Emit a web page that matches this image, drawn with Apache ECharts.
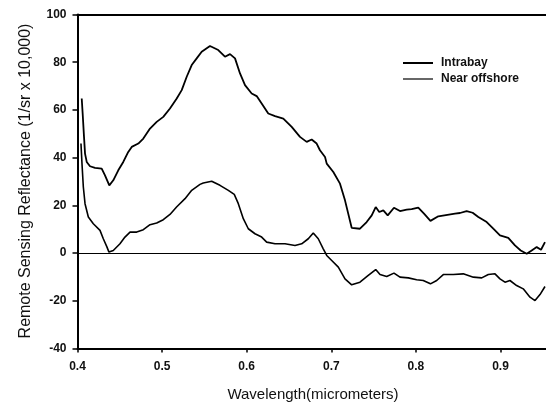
<!DOCTYPE html>
<html>
<head>
<meta charset="utf-8">
<script src="https://cdn.jsdelivr.net/npm/echarts@6/dist/echarts.min.js"></script>
<style>html,body{margin:0;padding:0;background:#fff}#c{width:546px;height:405px}</style>
</head>
<body>
<div id="c"></div>
<script>
const yTicks = [-40, -20, 0, 20, 40, 60, 80, 100];
const xTicks = [0.4, 0.5, 0.6, 0.7, 0.8, 0.9];
const seriesNames = ['Intrabay', 'Near offshore'];

const intrabayWl = [0.405,0.4061,0.4077,0.4089,0.4109,0.4148,0.4207,0.4286,0.4325,0.4376,0.4423,0.4482,0.4541,0.46,0.4641,0.4719,0.4778,0.4857,0.4936,0.5014,0.5093,0.5173,0.5232,0.5291,0.535,0.5409,0.5468,0.5566,0.5664,0.5743,0.5803,0.5862,0.5921,0.598,0.6059,0.6118,0.6177,0.6255,0.6335,0.6433,0.6532,0.663,0.6709,0.6768,0.6827,0.6866,0.6926,0.6946,0.7024,0.7103,0.7162,0.7241,0.7339,0.7418,0.7478,0.7525,0.7567,0.7615,0.7667,0.7741,0.7812,0.7891,0.795,0.8028,0.8096,0.8172,0.8265,0.8285,0.8462,0.8521,0.86,0.8671,0.8738,0.8837,0.8915,0.8994,0.9092,0.9171,0.9239,0.931,0.9369,0.9428,0.9479,0.9526];
const intrabayVal = [64.8,58.5,48.7,41.7,38.2,36.4,35.7,35.4,32.6,28.4,30.5,34.7,38.2,42.4,44.5,45.9,48,52.2,55,57.1,60.6,64.8,68.3,73.9,78.8,81.6,84.4,86.8,85.1,82.3,83.4,81.6,75.3,70.4,66.9,65.8,62.7,58.5,57.4,56.4,52.9,48.7,46.6,47.6,45.9,43.1,40.3,37.5,34,29.1,22.1,10.6,10.2,13,15.8,19.3,17.2,17.9,15.8,19,17.6,18.2,18.4,19,16.5,13.5,15.4,16.1,16.5,16.8,17.6,16.9,15.1,13,10.2,7.4,6.4,3.2,1.1,-0.3,1.1,2.5,1.4,4.6];

const offshoreWl = [0.4041,0.4053,0.4069,0.4089,0.4128,0.4187,0.4266,0.4305,0.4345,0.4372,0.4423,0.4502,0.4561,0.4621,0.47,0.4778,0.4857,0.4936,0.5014,0.5093,0.5171,0.5271,0.535,0.5448,0.5487,0.5586,0.5684,0.5783,0.5853,0.5901,0.596,0.6019,0.6098,0.6177,0.6236,0.6335,0.6453,0.6571,0.665,0.6728,0.6787,0.6846,0.6905,0.6946,0.7005,0.7083,0.7162,0.7241,0.7339,0.7437,0.7525,0.7576,0.7655,0.7741,0.7812,0.791,0.8009,0.8087,0.8172,0.8246,0.8324,0.8442,0.856,0.8679,0.8778,0.8856,0.8935,0.8994,0.9053,0.9112,0.9191,0.9269,0.9349,0.9408,0.9467,0.9526];
const offshoreVal = [45.9,37.5,27.7,20.7,15.1,12.3,9.5,6,2.8,0.4,1.1,3.9,6.7,8.8,8.8,9.8,11.9,12.6,14,16.2,19.3,22.8,26.3,28.8,29.4,30.1,28.4,26.3,24.6,20.7,14.4,10.2,8.1,6.7,4.6,3.9,3.9,3.2,3.9,6,8.4,6,1.8,-1,-3.1,-5.9,-10.8,-13.3,-12.2,-9.4,-6.9,-9,-9.8,-8.4,-10.1,-10.4,-11.2,-11.5,-12.9,-11.5,-9,-9,-8.7,-10.1,-10.4,-9,-8.7,-10.8,-12.2,-11.5,-13.6,-15,-18.5,-19.9,-17.4,-14];

const pairs = (xs, ys) => xs.map((x, i) => [x, ys[i]]);
const FONT = '"Liberation Sans", Arial, sans-serif';
const X_MAX = 0.9538; // visible right edge of the cropped plot

const chart = echarts.init(document.getElementById('c'), null, {renderer: 'canvas'});
chart.setOption({
  animation: false,
  backgroundColor: '#fff',
  grid: {left: 77.5, top: 14.5, right: 0, bottom: 56.5},
  xAxis: [{
    type: 'value', min: xTicks[0], max: X_MAX, interval: 0.1,
    axisLine: {show: true, onZero: false, lineStyle: {color: '#000', width: 2}},
    axisTick: {show: true, inside: false, length: 4, lineStyle: {color: '#000', width: 1.5}},
    axisLabel: {margin: 12, color: '#111', fontFamily: FONT, fontWeight: 'bold', fontSize: 12, showMaxLabel: false,
      formatter: v => (xTicks.some(t => Math.abs(t - v) < 1e-6) ? v.toFixed(1) : '')},
    splitLine: {show: false}
  }, {
    type: 'value', position: 'top', min: xTicks[0], max: X_MAX,
    axisLine: {show: true, onZero: false, lineStyle: {color: '#000', width: 2}},
    axisTick: {show: false}, axisLabel: {show: false}, splitLine: {show: false}
  }],
  yAxis: {
    type: 'value', min: yTicks[0], max: yTicks[yTicks.length - 1], interval: 20,
    axisLine: {show: true, lineStyle: {color: '#000', width: 2}},
    axisTick: {show: true, inside: false, length: 5, lineStyle: {color: '#000', width: 1.5}},
    axisLabel: {margin: 11, color: '#111', fontFamily: FONT, fontWeight: 'bold', fontSize: 12},
    splitLine: {show: false}
  },
  legend: [
    {data: [seriesNames[0]], left: 398, top: 52, icon: 'rect', itemWidth: 30, itemHeight: 2,
     textStyle: {fontFamily: FONT, fontWeight: 'bold', fontSize: 12, color: '#111', padding: [0, 0, 0, 3]}},
    {data: [seriesNames[1]], left: 398, top: 68, icon: 'rect', itemWidth: 30, itemHeight: 1.2,
     textStyle: {fontFamily: FONT, fontWeight: 'bold', fontSize: 12, color: '#111', padding: [0, 0, 0, 3]}}
  ],
  graphic: [
    {type: 'text', position: [313, 395], style: {text: 'Wavelength(micrometers)', font: '15px ' + FONT, fill: '#111', textAlign: 'center', textVerticalAlign: 'middle'}},
    {type: 'text', rotation: Math.PI / 2, position: [26, 181], style: {text: 'Remote Sensing Reflectance (1/sr x 10,000)', font: '16px ' + FONT, fill: '#111', textAlign: 'center', textVerticalAlign: 'middle'}}
  ],
  series: [
    {name: seriesNames[0], type: 'line', data: pairs(intrabayWl, intrabayVal), showSymbol: false, symbol: 'none',
     lineStyle: {color: '#000', width: 1.8}, itemStyle: {color: '#000'},
     markLine: {silent: true, symbol: 'none', label: {show: false}, lineStyle: {color: '#000', width: 1, type: 'solid'}, data: [{yAxis: 0}]}},
    {name: seriesNames[1], type: 'line', data: pairs(offshoreWl, offshoreVal), showSymbol: false, symbol: 'none',
     lineStyle: {color: '#000', width: 1.6}, itemStyle: {color: '#000'}}
  ]
});
</script>
</body>
</html>
